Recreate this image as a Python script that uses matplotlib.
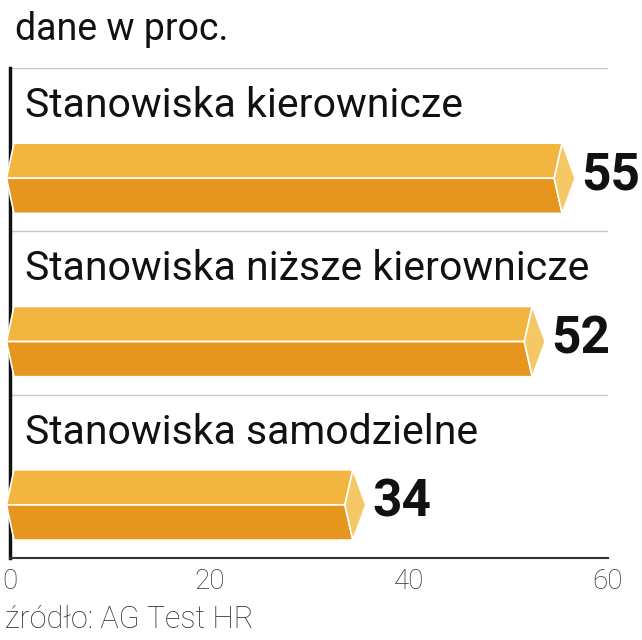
import matplotlib
matplotlib.use('Agg')
import matplotlib.pyplot as plt
from matplotlib.patches import Polygon

categories = ["Stanowiska kierownicze", "Stanowiska niższe kierownicze", "Stanowiska samodzielne"]
values = [55, 52, 34]
xticks = [0, 20, 40, 60]
title = "dane w proc."
source = "źródło: AG Test HR"

plt.rcParams['font.family'] = ['Roboto', 'DejaVu Sans']

W, H = 642, 640
fig = plt.figure(figsize=(W / 100, H / 100), dpi=100)
fig.patch.set_facecolor('white')
ax = fig.add_axes([10 / W, 1 - 558 / H, 598 / W, 490 / H])
ax.set_xlim(0, 60)
ax.set_ylim(3, 0)

top_c = '#F2B540'
bot_c = '#E6951F'
face_c = '#F6C865'

bar_top, bar_mid, bar_bot = 0.46, 0.675, 0.89
for i, (cat, v) in enumerate(zip(categories, values)):
    t, m, b = i + bar_top, i + bar_mid, i + bar_bot
    lt, lm = 0.4, -0.35
    top_band = Polygon([(lt, t), (v + 0.4, t), (v - 0.4, m), (lm, m)], closed=True,
                       facecolor=top_c, edgecolor='white', linewidth=1.2, clip_on=False, zorder=3)
    bot_band = Polygon([(lm, m), (v - 0.4, m), (v + 0.4, b), (lt, b)], closed=True,
                       facecolor=bot_c, edgecolor='white', linewidth=1.2, clip_on=False, zorder=3)
    face = Polygon([(v - 0.4, m), (v + 0.4, t), (v + 1.7, m), (v + 0.4, b)], closed=True,
                   facecolor=face_c, edgecolor='white', linewidth=1.2, clip_on=False, zorder=3)
    ax.add_patch(top_band)
    ax.add_patch(bot_band)
    ax.add_patch(face)
    ax.text(1.5, i + 0.30, cat, fontsize=29.5, color='#111111', ha='left', va='baseline', zorder=4)
    ax.text(v + 2.35, m - 0.015, str(v), fontsize=37, fontweight='bold', color='#111111',
            ha='left', va='center', clip_on=False, zorder=4)

for y in [0, 1, 2]:
    ax.axhline(y, color='#c8c8c8', linewidth=1.0, zorder=1)

for s in ['top', 'right']:
    ax.spines[s].set_visible(False)
ax.spines['left'].set_linewidth(2.5)
ax.spines['left'].set_color('#111111')
ax.spines['bottom'].set_linewidth(1.5)
ax.spines['bottom'].set_color('#333333')

ax.set_yticks([])
ax.set_xticks(xticks)
ax.set_xticklabels([str(x) for x in xticks])
ax.tick_params(axis='x', length=0, pad=7, labelsize=20, colors='#333333')
for lbl in ax.get_xticklabels():
    lbl.set_fontweight('light')

fig.text(15 / W, 1 - 40 / H, title, fontsize=27, color='#111111', ha='left', va='baseline')
fig.text(5 / W, 1 - 628 / H, source, fontsize=22, fontweight='light', color='#333333',
         ha='left', va='baseline')

fig.savefig('out.png', dpi=100, facecolor='white')
